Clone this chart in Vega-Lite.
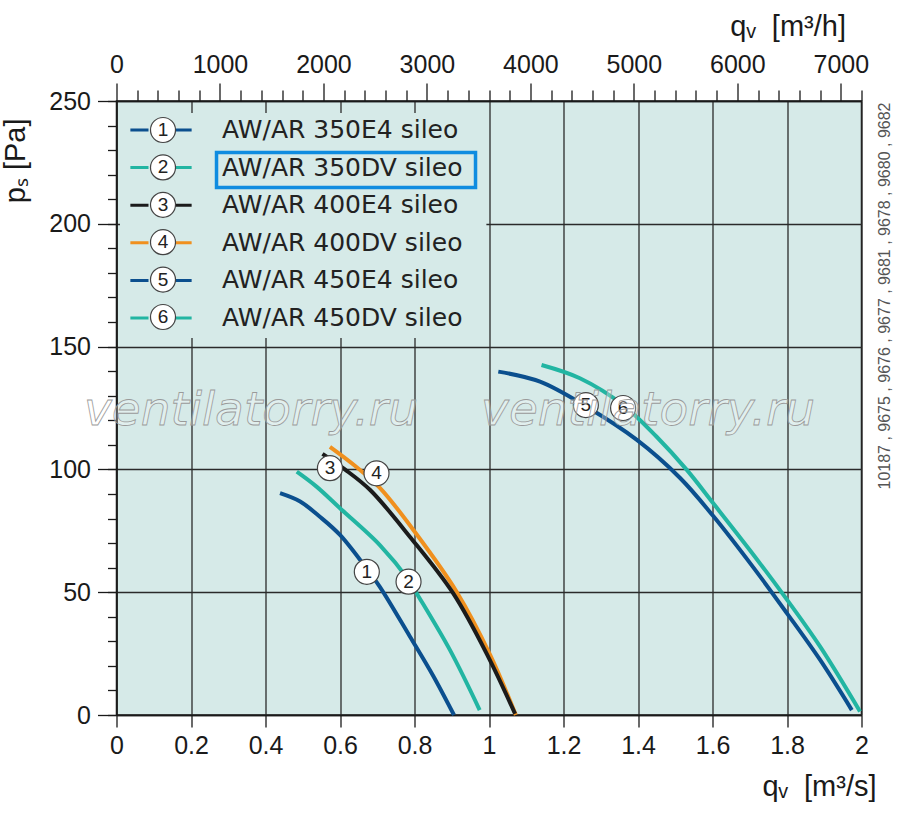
{
  "$schema": "https://vega.github.io/schema/vega-lite/v6.json",
  "width": 745,
  "height": 614,
  "autosize": {"type": "none"},
  "padding": {"left": 116.5, "top": 101, "right": 38.5, "bottom": 105},
  "background": "#ffffff",
  "view": {"fill": "#d6eae8", "stroke": "#1a1a1a", "strokeWidth": 1.5},
  "datasets": {
    "curves": [
      {"series": "AW/AR 350E4 sileo", "q": 0.439, "p": 90.3},
      {"series": "AW/AR 350E4 sileo", "q": 0.493, "p": 86.9},
      {"series": "AW/AR 350E4 sileo", "q": 0.546, "p": 80.7},
      {"series": "AW/AR 350E4 sileo", "q": 0.600, "p": 73.3},
      {"series": "AW/AR 350E4 sileo", "q": 0.672, "p": 59.5},
      {"series": "AW/AR 350E4 sileo", "q": 0.707, "p": 52.2},
      {"series": "AW/AR 350E4 sileo", "q": 0.788, "p": 31.9},
      {"series": "AW/AR 350E4 sileo", "q": 0.850, "p": 16.0},
      {"series": "AW/AR 350E4 sileo", "q": 0.906, "p": 0},
      {"series": "AW/AR 350DV sileo", "q": 0.484, "p": 99.1},
      {"series": "AW/AR 350DV sileo", "q": 0.537, "p": 93.0},
      {"series": "AW/AR 350DV sileo", "q": 0.600, "p": 84.2},
      {"series": "AW/AR 350DV sileo", "q": 0.707, "p": 69.2},
      {"series": "AW/AR 350DV sileo", "q": 0.784, "p": 55.0},
      {"series": "AW/AR 350DV sileo", "q": 0.806, "p": 49.5},
      {"series": "AW/AR 350DV sileo", "q": 0.895, "p": 26.5},
      {"series": "AW/AR 350DV sileo", "q": 0.975, "p": 2.0},
      {"series": "AW/AR 400DV sileo", "q": 0.573, "p": 109.2},
      {"series": "AW/AR 400DV sileo", "q": 0.640, "p": 101.5},
      {"series": "AW/AR 400DV sileo", "q": 0.707, "p": 92.5},
      {"series": "AW/AR 400DV sileo", "q": 0.806, "p": 73.5},
      {"series": "AW/AR 400DV sileo", "q": 0.913, "p": 50.2},
      {"series": "AW/AR 400DV sileo", "q": 1.003, "p": 24.5},
      {"series": "AW/AR 400DV sileo", "q": 1.072, "p": 0},
      {"series": "AW/AR 400E4 sileo", "q": 0.553, "p": 106.3},
      {"series": "AW/AR 400E4 sileo", "q": 0.613, "p": 100.0},
      {"series": "AW/AR 400E4 sileo", "q": 0.681, "p": 91.6},
      {"series": "AW/AR 400E4 sileo", "q": 0.788, "p": 72.5},
      {"series": "AW/AR 400E4 sileo", "q": 0.904, "p": 49.5},
      {"series": "AW/AR 400E4 sileo", "q": 0.998, "p": 23.7},
      {"series": "AW/AR 400E4 sileo", "q": 1.070, "p": 0.5},
      {"series": "AW/AR 450E4 sileo", "q": 1.025, "p": 139.8},
      {"series": "AW/AR 450E4 sileo", "q": 1.137, "p": 135.7},
      {"series": "AW/AR 450E4 sileo", "q": 1.262, "p": 125.5},
      {"series": "AW/AR 450E4 sileo", "q": 1.397, "p": 112.0},
      {"series": "AW/AR 450E4 sileo", "q": 1.513, "p": 96.5},
      {"series": "AW/AR 450E4 sileo", "q": 1.602, "p": 81.0},
      {"series": "AW/AR 450E4 sileo", "q": 1.710, "p": 60.0},
      {"series": "AW/AR 450E4 sileo", "q": 1.800, "p": 41.4},
      {"series": "AW/AR 450E4 sileo", "q": 1.889, "p": 22.4},
      {"series": "AW/AR 450E4 sileo", "q": 1.974, "p": 2.0},
      {"series": "AW/AR 450DV sileo", "q": 1.141, "p": 142.5},
      {"series": "AW/AR 450DV sileo", "q": 1.244, "p": 137.1},
      {"series": "AW/AR 450DV sileo", "q": 1.360, "p": 126.2},
      {"series": "AW/AR 450DV sileo", "q": 1.450, "p": 113.3},
      {"series": "AW/AR 450DV sileo", "q": 1.531, "p": 99.8},
      {"series": "AW/AR 450DV sileo", "q": 1.602, "p": 86.2},
      {"series": "AW/AR 450DV sileo", "q": 1.700, "p": 67.2},
      {"series": "AW/AR 450DV sileo", "q": 1.790, "p": 49.0},
      {"series": "AW/AR 450DV sileo", "q": 1.889, "p": 27.8},
      {"series": "AW/AR 450DV sileo", "q": 1.996, "p": 1.4}
    ],
    "tags": [
      {"num": "1", "q": 0.672, "p": 58.3},
      {"num": "2", "q": 0.784, "p": 54.3},
      {"num": "3", "q": 0.573, "p": 100.5},
      {"num": "4", "q": 0.698, "p": 98.4},
      {"num": "5", "q": 1.260, "p": 126.2},
      {"num": "6", "q": 1.360, "p": 125.0}
    ],
    "marks": [
      {"t": "ventilatorry.ru", "q": 0.361, "p": 118.1},
      {"t": "ventilatorry.ru", "q": 1.427, "p": 118.1}
    ]
  },
  "layer": [
    {
      "layer": [
        {
          "data": {"values": [{}]},
          "mark": {"type": "rect", "fill": "#d6eae8"},
          "encoding": {
            "x": {"datum": 0.0094, "type": "quantitative"},
            "x2": {"datum": 0.993},
            "y": {"datum": 245.1, "type": "quantitative", "axis": null},
            "y2": {"datum": 153.5}
          }
        },
        {
          "data": {"name": "curves"},
          "mark": {"type": "line", "strokeWidth": 4, "interpolate": "catmull-rom"},
          "encoding": {
            "x": {
              "field": "q",
              "type": "quantitative",
              "scale": {"domain": [0, 2], "nice": false},
              "axis": {
                "orient": "bottom",
                "values": [0, 0.05, 0.1, 0.15, 0.2, 0.25, 0.3, 0.35, 0.4, 0.45, 0.5, 0.55, 0.6, 0.65, 0.7, 0.75, 0.8, 0.85, 0.9, 0.95, 1, 1.05, 1.1, 1.15, 1.2, 1.25, 1.3, 1.35, 1.4, 1.45, 1.5, 1.55, 1.6, 1.65, 1.7, 1.75, 1.8, 1.85, 1.9, 1.95, 2],
                "labelExpr": "abs(datum.value*5-round(datum.value*5)) < 0.01 ? format(datum.value, '.1~f') : ''",
                "labelOverlap": false,
                "grid": true,
                "gridOpacity": {"condition": {"test": "abs(datum.value*5-round(datum.value*5)) > 0.01", "value": 0}, "value": 1},
                "tickSize": {"condition": {"test": "abs(datum.value*5-round(datum.value*5)) > 0.01", "value": 7}, "value": 12},
                "labelPadding": 6,
                "title": "qᵥ\u00a0\u00a0[m³/s]",
                "titleFontSize": 29,
                "titleX": 759.5,
                "titleY": 80,
                "titleAlign": "right",
                "titleBaseline": "alphabetic"
              }
            },
            "y": {
              "field": "p",
              "type": "quantitative",
              "scale": {"domain": [0, 250], "nice": false},
              "axis": {
                "orient": "left",
                "values": [0, 50, 100, 150, 200, 250],
                "format": "d",
                "labelOverlap": false,
                "grid": true,
                "tickSize": 19,
                "labelPadding": 7,
                "title": "pₛ [Pa]",
                "titleFontSize": 29,
                "titleAngle": -90,
                "titleX": -92.5,
                "titleY": 17,
                "titleAlign": "right",
                "titleBaseline": "alphabetic"
              }
            },
            "stroke": {
              "field": "series",
              "type": "nominal",
              "scale": {
                "domain": ["AW/AR 350E4 sileo", "AW/AR 350DV sileo", "AW/AR 400E4 sileo", "AW/AR 400DV sileo", "AW/AR 450E4 sileo", "AW/AR 450DV sileo"],
                "range": ["#0b4f8e", "#22b5a2", "#1b1b1b", "#f0901e", "#0b4f8e", "#22b5a2"]
              },
              "legend": {
                "orient": "none",
                "legendX": 30.5,
                "legendY": 15,
                "title": null,
                "padding": 0,
                "symbolType": "M-2.45,0H-1M1,0H2.45",
                "symbolSize": 625,
                "symbolStrokeWidth": 3,
                "labelFont": "DejaVu Sans",
                "labelFontSize": 25,
                "labelColor": "#222222",
                "labelOffset": 47,
                "labelLimit": 400,
                "rowPadding": 10.6
              }
            }
          }
        },
        {
          "data": {"name": "tags"},
          "mark": {"type": "circle", "size": 625, "stroke": "#444444", "strokeWidth": 1.2, "opacity": 1},
          "encoding": {
            "x": {"field": "q", "type": "quantitative"},
            "y": {
              "field": "p",
              "type": "quantitative",
              "axis": {
                "orient": "left",
                "values": [0, 10, 20, 30, 40, 50, 60, 70, 80, 90, 100, 110, 120, 130, 140, 150, 160, 170, 180, 190, 200, 210, 220, 230, 240, 250],
                "labels": false,
                "domain": false,
                "grid": false,
                "tickSize": 9,
                "title": null
              }
            },
            "fill": {
              "field": "num",
              "type": "nominal",
              "scale": {"range": ["#ffffff", "#ffffff", "#ffffff", "#ffffff", "#ffffff", "#ffffff"]},
              "legend": {
                "orient": "none",
                "legendX": 33,
                "legendY": 15.5,
                "title": null,
                "padding": 0,
                "symbolType": "circle",
                "symbolSize": 625,
                "symbolStrokeColor": "#444444",
                "symbolStrokeWidth": 1.2,
                "symbolOpacity": 1,
                "labelFont": "Liberation Sans",
                "labelFontSize": 19,
                "labelColor": "#222222",
                "labelAlign": "center",
                "labelOffset": -13.5,
                "rowPadding": 6.4
              }
            }
          }
        },
        {
          "data": {"name": "tags"},
          "mark": {"type": "text", "font": "Liberation Sans", "fontSize": 19, "fill": "#222222", "align": "center", "baseline": "middle"},
          "encoding": {
            "x": {"field": "q", "type": "quantitative"},
            "y": {"field": "p", "type": "quantitative", "axis": null},
            "text": {"field": "num"}
          }
        },
        {
          "data": {"values": [{}]},
          "mark": {"type": "rect", "fill": "transparent", "stroke": "#0f8ce0", "strokeWidth": 3.5},
          "encoding": {
            "x": {"datum": 0.2685, "type": "quantitative"},
            "x2": {"datum": 0.9638},
            "y": {"datum": 229.0, "type": "quantitative", "axis": null},
            "y2": {"datum": 214.8}
          }
        },
        {
          "data": {"name": "marks"},
          "mark": {"type": "text", "font": "DejaVu Sans", "fontSize": 47, "fontStyle": "italic", "fill": "#ffffff", "fillOpacity": 0.3, "stroke": "#9a9a9a", "strokeWidth": 0.8, "align": "center", "baseline": "alphabetic"},
          "encoding": {
            "x": {"field": "q", "type": "quantitative"},
            "y": {"field": "p", "type": "quantitative", "axis": null},
            "text": {"field": "t"}
          }
        }
      ],
      "resolve": {"axis": {"y": "independent"}}
    },
    {
      "data": {"values": [{}]},
      "mark": {"type": "point", "opacity": 0},
      "encoding": {
        "x": {
          "datum": 0,
          "type": "quantitative",
          "scale": {"domain": [0, 7200], "nice": false},
          "axis": {
            "orient": "top",
            "values": [0, 200, 400, 600, 800, 1000, 1200, 1400, 1600, 1800, 2000, 2200, 2400, 2600, 2800, 3000, 3200, 3400, 3600, 3800, 4000, 4200, 4400, 4600, 4800, 5000, 5200, 5400, 5600, 5800, 6000, 6200, 6400, 6600, 6800, 7000, 7200],
            "labelExpr": "datum.value % 1000 == 0 ? format(datum.value, 'd') : ''",
            "labelOverlap": false,
            "grid": false,
            "tickSize": {"condition": {"test": "datum.value % 1000 != 0", "value": 11}, "value": 18},
            "labelPadding": 6,
            "title": "qᵥ\u00a0\u00a0[m³/h]",
            "titleFontSize": 29,
            "titleX": 729,
            "titleY": -66,
            "titleAlign": "right",
            "titleBaseline": "alphabetic"
          }
        },
        "y": {
          "datum": 0,
          "type": "quantitative",
          "axis": {
            "orient": "right",
            "labels": false,
            "ticks": false,
            "domain": false,
            "grid": false,
            "title": "10187 , 9675 , 9676 , 9677 , 9681 , 9678 , 9680 , 9682",
            "titleAngle": -90,
            "titleX": 23,
            "titleY": 1,
            "titleAlign": "right",
            "titleBaseline": "middle",
            "titleFontSize": 16,
            "titleColor": "#555555"
          }
        }
      }
    }
  ],
  "resolve": {"scale": {"x": "independent"}, "axis": {"x": "independent", "y": "independent"}},
  "config": {
    "axis": {
      "labelFont": "Liberation Sans",
      "labelFontSize": 25,
      "labelColor": "#1a1a1a",
      "titleFont": "Liberation Sans",
      "titleFontSize": 27,
      "titleFontWeight": "normal",
      "titleColor": "#1a1a1a",
      "domainColor": "#1a1a1a",
      "domainWidth": 1.5,
      "tickColor": "#1a1a1a",
      "tickWidth": 1.3,
      "gridColor": "#2a2a2a",
      "gridWidth": 1.3,
      "labelFlush": false,
      "labelOverlap": false
    }
  }
}
